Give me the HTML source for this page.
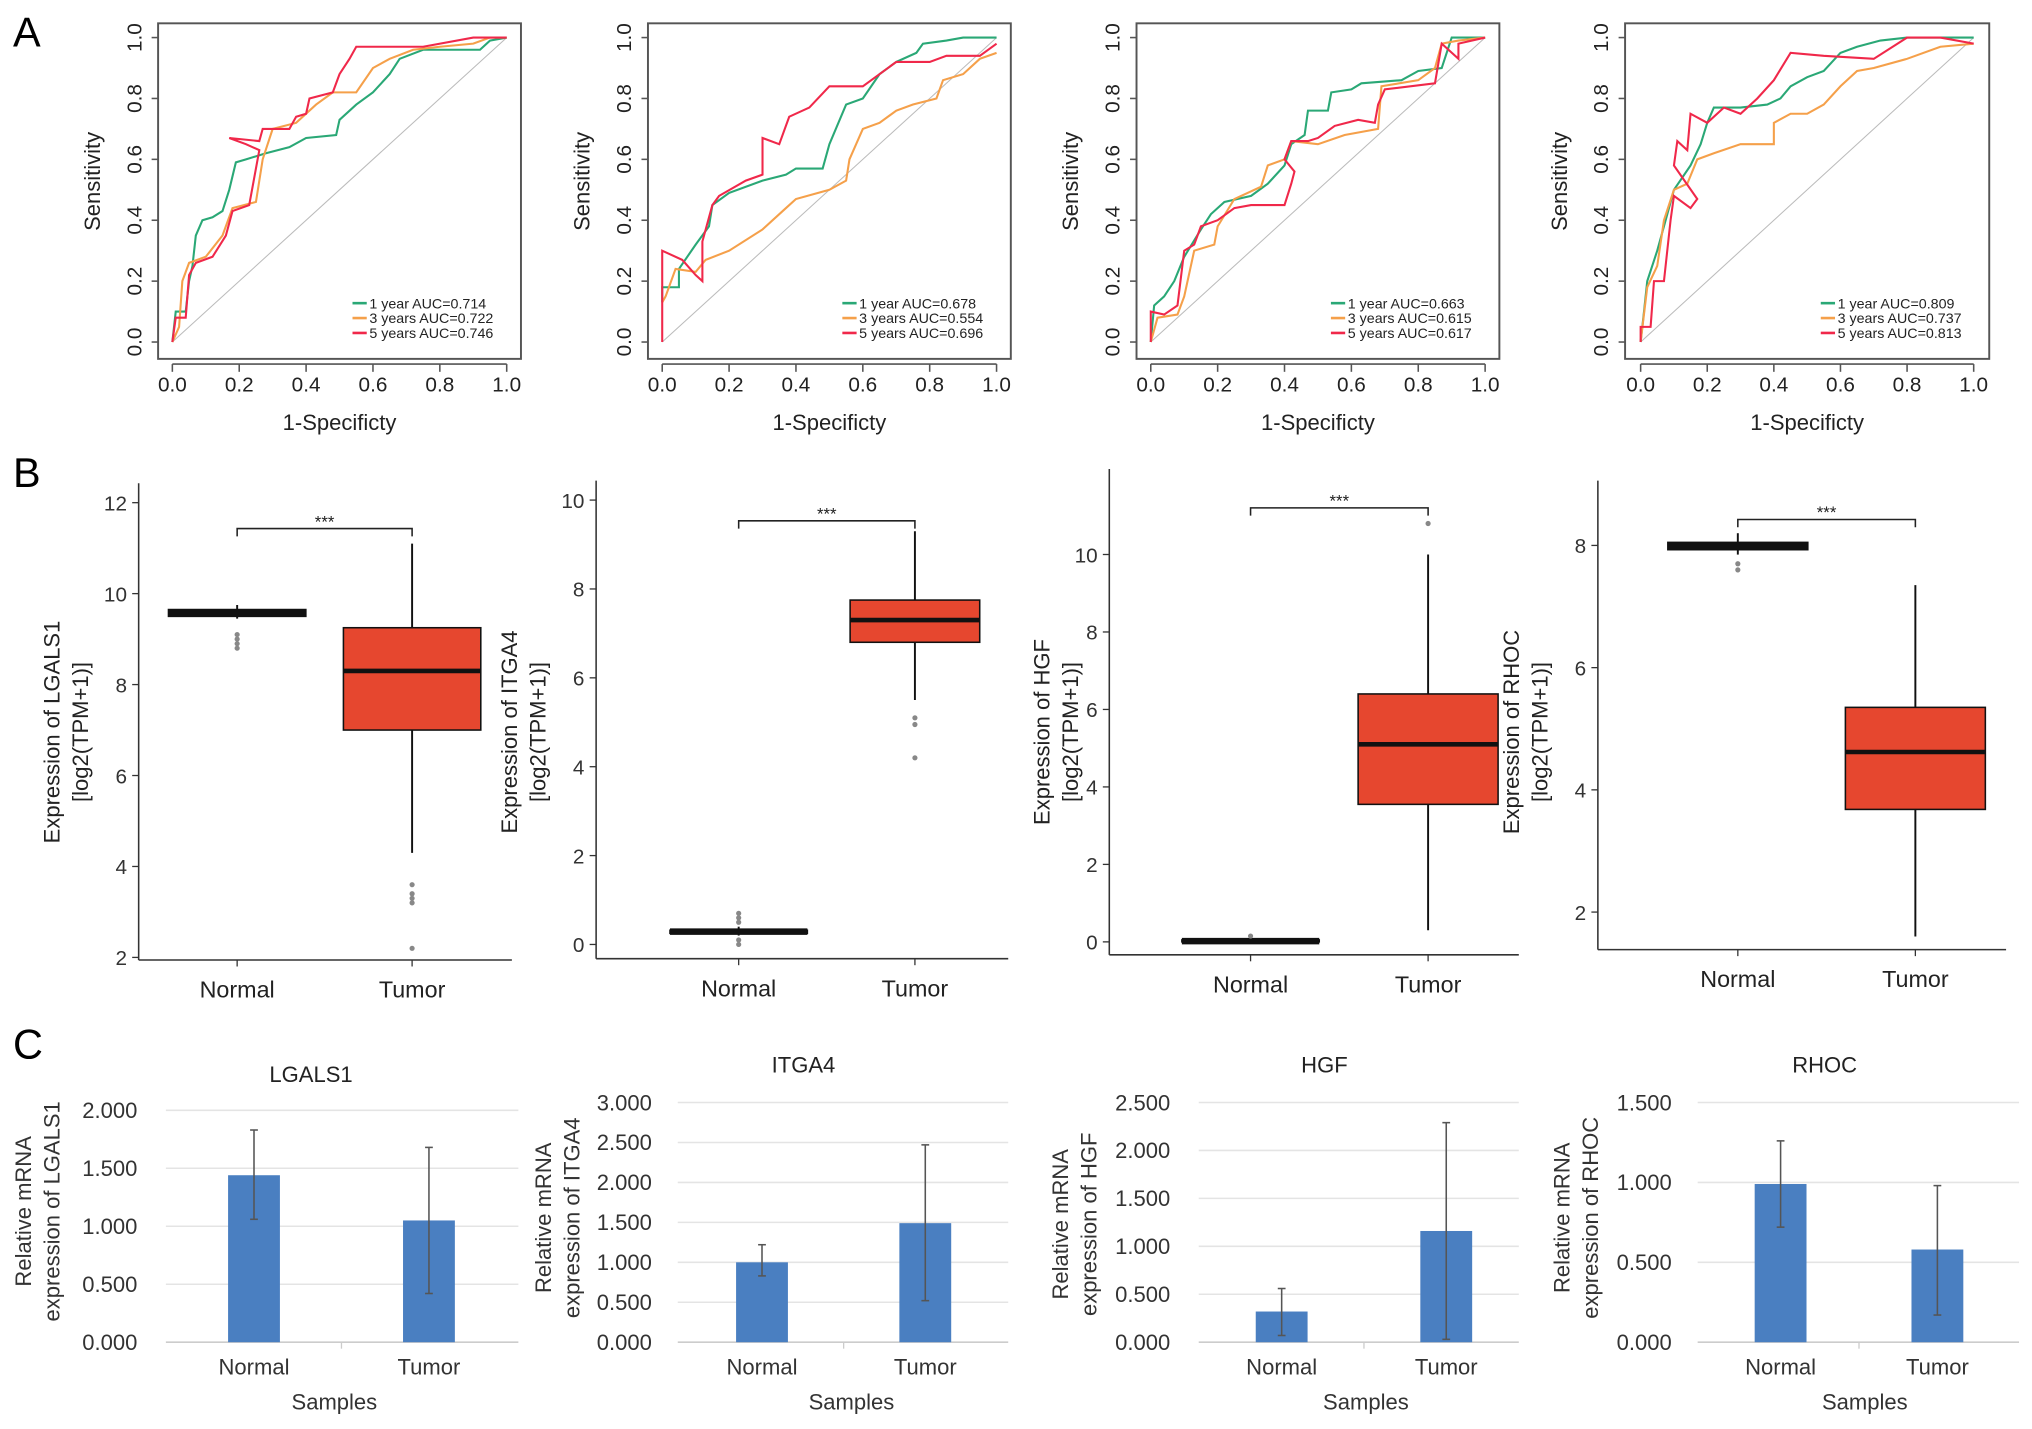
<!DOCTYPE html>
<html><head><meta charset="utf-8"><style>
html,body{margin:0;padding:0;background:#fff;}
svg{display:block;font-family:"Liberation Sans",Arial,sans-serif;}
</style></head><body>
<svg id="fig" width="2032" height="1429" viewBox="0 0 1568 1103" preserveAspectRatio="none" xmlns="http://www.w3.org/2000/svg">
<rect width="1568" height="1103" fill="#fff"/>
<text x="10" y="36" font-size="32">A</text>
<text x="10" y="376" font-size="32">B</text>
<text x="10" y="817" font-size="32">C</text>
</svg>
<script>
// ---------- Panel A: ROC data ----------
const rocLegend1 = ["1 year AUC=0.714","3 years AUC=0.722","5 years AUC=0.746"];
const rocLegend2 = ["1 year AUC=0.678","3 years AUC=0.554","5 years AUC=0.696"];
const rocLegend3 = ["1 year AUC=0.663","3 years AUC=0.615","5 years AUC=0.617"];
const rocLegend4 = ["1 year AUC=0.809","3 years AUC=0.737","5 years AUC=0.813"];
const rocTicks = [0,0.2,0.4,0.6,0.8,1.0];
const roc1y1 = [[0,0],[0.01,0.1],[0.04,0.1],[0.05,0.2],[0.06,0.25],[0.07,0.35],[0.09,0.4],[0.12,0.41],[0.15,0.43],[0.17,0.5],[0.19,0.59],[0.22,0.6],[0.28,0.62],[0.35,0.64],[0.4,0.67],[0.49,0.68],[0.5,0.73],[0.55,0.78],[0.6,0.82],[0.65,0.88],[0.68,0.93],[0.75,0.96],[0.92,0.96],[0.95,0.99],[1,1]];
const roc1y3 = [[0,0],[0.02,0.05],[0.03,0.2],[0.05,0.26],[0.1,0.28],[0.15,0.35],[0.18,0.44],[0.25,0.46],[0.27,0.6],[0.3,0.7],[0.37,0.72],[0.43,0.78],[0.48,0.82],[0.55,0.82],[0.6,0.9],[0.65,0.93],[0.72,0.96],[0.8,0.97],[0.9,0.98],[0.95,1],[1,1]];
const roc1y5 = [[0,0],[0.01,0.08],[0.04,0.08],[0.05,0.22],[0.07,0.26],[0.12,0.28],[0.16,0.35],[0.18,0.43],[0.23,0.45],[0.26,0.63],[0.22,0.65],[0.17,0.67],[0.26,0.66],[0.27,0.7],[0.35,0.7],[0.37,0.74],[0.4,0.75],[0.41,0.8],[0.48,0.82],[0.5,0.88],[0.53,0.93],[0.55,0.97],[0.65,0.97],[0.75,0.97],[0.9,1],[1,1]];
const roc2y1 = [[0,0.13],[0,0.18],[0.05,0.18],[0.05,0.24],[0.1,0.32],[0.14,0.38],[0.15,0.45],[0.2,0.49],[0.3,0.53],[0.37,0.55],[0.4,0.57],[0.48,0.57],[0.5,0.65],[0.55,0.78],[0.6,0.8],[0.65,0.88],[0.7,0.92],[0.76,0.95],[0.78,0.98],[0.85,0.99],[0.9,1],[1,1]];
const roc2y3 = [[0,0.13],[0.01,0.15],[0.04,0.24],[0.1,0.23],[0.13,0.27],[0.2,0.3],[0.3,0.37],[0.37,0.44],[0.4,0.47],[0.5,0.5],[0.55,0.53],[0.56,0.6],[0.6,0.7],[0.65,0.72],[0.7,0.76],[0.75,0.78],[0.82,0.8],[0.84,0.86],[0.9,0.88],[0.95,0.93],[1,0.95]];
const roc2y5 = [[0,0],[0,0.3],[0.06,0.27],[0.1,0.22],[0.12,0.2],[0.12,0.33],[0.15,0.45],[0.17,0.48],[0.25,0.53],[0.3,0.55],[0.3,0.67],[0.35,0.65],[0.38,0.74],[0.44,0.77],[0.5,0.84],[0.6,0.84],[0.7,0.92],[0.8,0.92],[0.85,0.94],[0.95,0.94],[1,0.98]];
const roc3y1 = [[0,0],[0.01,0.12],[0.04,0.15],[0.07,0.2],[0.1,0.28],[0.15,0.37],[0.18,0.42],[0.22,0.46],[0.3,0.48],[0.35,0.52],[0.4,0.58],[0.42,0.65],[0.46,0.68],[0.47,0.76],[0.53,0.76],[0.54,0.82],[0.6,0.83],[0.63,0.85],[0.75,0.86],[0.8,0.89],[0.87,0.9],[0.9,1],[1,1]];
const roc3y3 = [[0,0],[0.02,0.08],[0.08,0.09],[0.1,0.15],[0.13,0.3],[0.19,0.32],[0.2,0.38],[0.25,0.47],[0.33,0.51],[0.35,0.58],[0.4,0.6],[0.42,0.66],[0.5,0.65],[0.58,0.68],[0.68,0.7],[0.69,0.84],[0.8,0.86],[0.85,0.9],[0.87,0.98],[0.92,0.99],[1,1]];
const roc3y5 = [[0,0],[0,0.1],[0.04,0.09],[0.08,0.12],[0.1,0.3],[0.13,0.32],[0.15,0.38],[0.2,0.4],[0.25,0.44],[0.3,0.45],[0.4,0.45],[0.42,0.52],[0.43,0.56],[0.4,0.6],[0.42,0.66],[0.47,0.66],[0.5,0.67],[0.55,0.71],[0.62,0.73],[0.67,0.72],[0.68,0.78],[0.7,0.83],[0.85,0.85],[0.87,0.98],[0.92,0.93],[0.92,0.98],[1,1]];
const roc4y1 = [[0,0],[0.01,0.1],[0.02,0.2],[0.05,0.3],[0.08,0.42],[0.1,0.5],[0.15,0.58],[0.18,0.65],[0.2,0.72],[0.22,0.77],[0.3,0.77],[0.38,0.78],[0.42,0.8],[0.45,0.84],[0.5,0.87],[0.55,0.89],[0.6,0.95],[0.65,0.97],[0.72,0.99],[0.8,1],[1,1]];
const roc4y3 = [[0,0],[0.02,0.18],[0.05,0.25],[0.07,0.4],[0.1,0.5],[0.14,0.52],[0.17,0.6],[0.22,0.62],[0.3,0.65],[0.4,0.65],[0.4,0.72],[0.45,0.75],[0.5,0.75],[0.55,0.78],[0.6,0.84],[0.65,0.89],[0.7,0.9],[0.8,0.93],[0.9,0.97],[1,0.98]];
const roc4y5 = [[0,0],[0,0.05],[0.03,0.05],[0.04,0.2],[0.07,0.2],[0.09,0.4],[0.1,0.48],[0.15,0.44],[0.17,0.47],[0.1,0.58],[0.11,0.66],[0.14,0.63],[0.15,0.75],[0.2,0.72],[0.25,0.77],[0.3,0.75],[0.35,0.8],[0.4,0.86],[0.45,0.95],[0.55,0.94],[0.7,0.93],[0.8,1],[0.9,1],[1,0.98]];

// ---------- Panel B: boxplot data ----------
const boxGenes = ["LGALS1","ITGA4","HGF","RHOC"];
const boxCategories = ["Normal","Tumor"];
const boxTicks1 = [2,4,6,8,10,12];
const boxTicks2 = [0,2,4,6,8,10];
const boxTicks3 = [0,2,4,6,8,10];
const boxTicks4 = [2,4,6,8];
// [whiskerLow, q1, median, q3, whiskerHigh]
const boxStats1 = [[9.45,9.5,9.58,9.65,9.75],[4.3,7.0,8.3,9.25,11.1]];
const boxStats2 = [[0.2,0.25,0.29,0.32,0.4],[5.5,6.8,7.3,7.75,9.3]];
const boxStats3 = [[0,0,0.02,0.05,0.1],[0.3,3.55,5.1,6.4,10.0]];
const boxStats4 = [[7.85,7.93,7.99,8.05,8.2],[1.6,3.68,4.62,5.35,7.35]];
const boxOut1 = [[9.1,9.0,8.9,8.8],[3.6,3.4,3.3,3.2,2.2]];
const boxOut2 = [[0.7,0.6,0.5,0.1,0.0],[5.1,4.95,4.2]];
const boxOut3 = [[0.15],[10.8]];
const boxOut4 = [[7.7,7.6],[]];

// ---------- Panel C: bar data ----------
const barGenes = ["LGALS1","ITGA4","HGF","RHOC"];
const barCategories = ["Normal","Tumor"];
const barTicks1 = [0,0.5,1,1.5,2];
const barTicks2 = [0,0.5,1,1.5,2,2.5,3];
const barTicks3 = [0,0.5,1,1.5,2,2.5];
const barTicks4 = [0,0.5,1,1.5];
const barValues1 = [1.44,1.05];
const barValues2 = [1.0,1.49];
const barValues3 = [0.32,1.16];
const barValues4 = [0.99,0.58];
const barErrLow1 = [1.06,0.42], barErrHigh1 = [1.83,1.68];
const barErrLow2 = [0.83,0.52], barErrHigh2 = [1.22,2.47];
const barErrLow3 = [0.07,0.03], barErrHigh3 = [0.56,2.29];
const barErrLow4 = [0.72,0.17], barErrHigh4 = [1.26,0.98];

const svg = document.getElementById('fig');
const NS = 'http://www.w3.org/2000/svg';
function mk(tag, attrs, parent, text){
  const e = document.createElementNS(NS, tag);
  for (const k in attrs) e.setAttribute(k, attrs[k]);
  if (text !== undefined) e.textContent = text;
  (parent || svg).appendChild(e);
  return e;
}
function lin(d0,d1,r0,r1){ return v => r0 + (v-d0)/(d1-d0)*(r1-r0); }

// ---------- Draw Panel A ----------
const rocPanels = [
  {x0:133, x1:391, box:[122,402], lg:rocLegend1, s:[roc1y1,roc1y3,roc1y5]},
  {x0:511, x1:769, box:[500,780], lg:rocLegend2, s:[roc2y1,roc2y3,roc2y5]},
  {x0:888, x1:1146, box:[877,1157], lg:rocLegend3, s:[roc3y1,roc3y3,roc3y5]},
  {x0:1266, x1:1523, box:[1254,1535], lg:rocLegend4, s:[roc4y1,roc4y3,roc4y5]}
];
const rocColors = ['#2aa876','#f5a04a','#f0284a'];
rocPanels.forEach((p, i) => {
  const g = mk('g', {});
  
  
  const xs = lin(0,1,p.x0,p.x1), ys = lin(0,1,264,29);
  mk('rect', {x:p.box[0], y:18, width:p.box[1]-p.box[0], height:259, fill:'none', stroke:'#555', 'stroke-width':1.5}, g);
  mk('line', {x1:xs(0), y1:ys(0), x2:xs(1), y2:ys(1), stroke:'#bbb', 'stroke-width':0.8}, g);
  mk('line', {x1:xs(0), y1:281, x2:xs(1), y2:281, stroke:'#555', 'stroke-width':1.2}, g);
  rocTicks.forEach(t => {
    mk('line', {x1:xs(t), y1:281, x2:xs(t), y2:287, stroke:'#555', 'stroke-width':1.2}, g);
    const tl = mk('text', {x:xs(t), y:302, 'font-size':16, 'text-anchor':'middle', fill:'#222'}, g, t.toFixed(1));
    
    
    mk('line', {x1:p.box[0], y1:ys(t), x2:p.box[0]-5, y2:ys(t), stroke:'#555', 'stroke-width':1.2}, g);
    const yl = mk('text', {x:0, y:0, 'font-size':16, 'text-anchor':'middle', fill:'#222', transform:`translate(${p.box[0]-13},${ys(t)}) rotate(-90)`}, g, t.toFixed(1));
    
    
  });
  const xt = mk('text', {x:(xs(0)+xs(1))/2, y:332, 'font-size':17, 'text-anchor':'middle', fill:'#222'}, g, '1-Specificty');
  
  
  const yt = mk('text', {x:0, y:0, 'font-size':17, 'text-anchor':'middle', fill:'#222', transform:`translate(${p.box[0]-45},140) rotate(-90)`}, g, 'Sensitivity');
  
  
  p.s.forEach((ser, k) => {
    const pl = mk('polyline', {points: ser.map(d => xs(d[0]).toFixed(1)+','+ys(d[1]).toFixed(1)).join(' '), fill:'none', stroke:rocColors[k], 'stroke-width':1.6}, g);
    
    
  });
  p.lg.forEach((txt, k) => {
    const lx = p.box[1]-130, ly = 234 + k*11.5;
    const le = mk('g', {}, g);
    
    
    mk('line', {x1:lx, y1:ly, x2:lx+11, y2:ly, stroke:rocColors[k], 'stroke-width':2}, le);
    mk('text', {x:lx+13, y:ly+4, 'font-size':11, fill:'#222'}, le, txt);
  });
});

// ---------- Draw Panel B ----------
const boxPanels = [
  {ax:107, ax1:395, axY:741, v0:2, v1:12, p0:739, p1:388, cx:[183,318], hw:[53,53], ticks:boxTicks1, st:boxStats1, out:boxOut1, brY:408, lx:[40,62], lcy:565},
  {ax:460, ax1:778, axY:740, v0:0, v1:10, p0:729, p1:386, cx:[570,706], hw:[53,50], ticks:boxTicks2, st:boxStats2, out:boxOut2, brY:402, lx:[393,415], lcy:565},
  {ax:856, ax1:1172, axY:737, v0:0, v1:10, p0:727, p1:428, cx:[965,1102], hw:[53,54], ticks:boxTicks3, st:boxStats3, out:boxOut3, brY:392, lx:[804,826], lcy:565},
  {ax:1233, ax1:1548, axY:733, v0:2, v1:8, p0:704, p1:421, cx:[1341,1478], hw:[54,54], ticks:boxTicks4, st:boxStats4, out:boxOut4, brY:401, lx:[1166,1188], lcy:565}
];
boxPanels.forEach((p, i) => {
  const g = mk('g', {});
  
  
  const ys = lin(p.v0,p.v1,p.p0,p.p1);
  const top = ys(p.ticks[p.ticks.length-1]) - 15;
  mk('line', {x1:p.ax, y1:Math.min(top, p.brY-30), x2:p.ax, y2:p.axY, stroke:'#333', 'stroke-width':1.2}, g);
  mk('line', {x1:p.ax, y1:p.axY, x2:p.ax1, y2:p.axY, stroke:'#333', 'stroke-width':1.2}, g);
  p.ticks.forEach(t => {
    mk('line', {x1:p.ax-5, y1:ys(t), x2:p.ax, y2:ys(t), stroke:'#333', 'stroke-width':1}, g);
    const tl = mk('text', {x:p.ax-9, y:ys(t)+6, 'font-size':16, 'text-anchor':'end', fill:'#333'}, g, String(t));
    
    
  });
  const t1 = mk('text', {x:0,y:0,'font-size':17,'text-anchor':'middle',fill:'#222',transform:`translate(${p.lx[0]+6},${p.lcy}) rotate(-90)`}, g, 'Expression of ' + boxGenes[i]);
  
  
  const t2 = mk('text', {x:0,y:0,'font-size':17,'text-anchor':'middle',fill:'#222',transform:`translate(${p.lx[1]+6},${p.lcy}) rotate(-90)`}, g, '[log2(TPM+1)]');
  
  
  boxCategories.forEach((c, k) => {
    const cx = p.cx[k], hw = p.hw[k], s = p.st[k];
    mk('line', {x1:cx, y1:p.axY, x2:cx, y2:p.axY+5, stroke:'#333'}, g);
    const xl = mk('text', {x:cx, y:p.axY+29, 'font-size':18, 'text-anchor':'middle', fill:'#222'}, g, c);
    
    
    const bx = mk('g', {}, g);
    
    
    mk('line', {x1:cx, y1:ys(s[0]), x2:cx, y2:ys(s[4]), stroke:'#111', 'stroke-width':1.5}, bx);
    const h = Math.max(ys(s[1]) - ys(s[3]), 1);
    mk('rect', {x:cx-hw, y:ys(s[3]), width:2*hw, height:h, fill: k===1 ? '#e6472f' : '#111', stroke:'#111', 'stroke-width':1.2}, bx);
    mk('line', {x1:cx-hw, y1:ys(s[2]), x2:cx+hw, y2:ys(s[2]), stroke:'#111', 'stroke-width': k===1 ? 3.5 : 5}, bx);
    p.out[k].forEach(o => {
      mk('circle', {cx:cx, cy:ys(o), r:2, fill:'#888'}, bx);
    });
  });
  const br = mk('g', {}, g);
  
  
  mk('path', {d:`M${p.cx[0]} ${p.brY+6} V${p.brY} H${p.cx[1]} V${p.brY+6}`, fill:'none', stroke:'#222', 'stroke-width':1.2}, br);
  mk('text', {x:(p.cx[0]+p.cx[1])/2, y:p.brY-1, 'font-size':13, 'text-anchor':'middle', fill:'#222'}, br, '***');
});

// ---------- Draw Panel C ----------
const barPanels = [
  {gx0:128, gx1:400, tlx:106, vmax:2, py0:1036, py1:857, ticks:barTicks1, v:barValues1, lo:barErrLow1, hi:barErrHigh1, cx:[196,331], title:[240,835], lx:[18,40], lcy:935, sx:258},
  {gx0:523, gx1:778, tlx:503, vmax:3, py0:1036, py1:851, ticks:barTicks2, v:barValues2, lo:barErrLow2, hi:barErrHigh2, cx:[588,714], title:[620,828], lx:[419,441], lcy:940, sx:657},
  {gx0:925, gx1:1172, tlx:903, vmax:2.5, py0:1036, py1:851, ticks:barTicks3, v:barValues3, lo:barErrLow3, hi:barErrHigh3, cx:[989,1116], title:[1022,828], lx:[818,840], lcy:945, sx:1054},
  {gx0:1310, gx1:1558, tlx:1290, vmax:1.5, py0:1036, py1:851, ticks:barTicks4, v:barValues4, lo:barErrLow4, hi:barErrHigh4, cx:[1374,1495], title:[1408,828], lx:[1205,1227], lcy:940, sx:1439}
];
barPanels.forEach((p, i) => {
  const g = mk('g', {});
  
  
  const ys = lin(0, p.vmax, p.py0, p.py1);
  const tt = mk('text', {x:p.title[0], y:p.title[1], 'font-size':17, 'text-anchor':'middle', fill:'#222'}, g, barGenes[i]);
  
  
  p.ticks.forEach(t => {
    mk('line', {x1:p.gx0, y1:ys(t), x2:p.gx1, y2:ys(t), stroke: t===0 ? '#ccc' : '#e4e4e4', 'stroke-width':1.2}, g);
    const tl = mk('text', {x:p.tlx, y:ys(t)+6, 'font-size':17, 'text-anchor':'end', fill:'#333'}, g, t.toFixed(3));
    
    
  });
  mk('line', {x1:(p.cx[0]+p.cx[1])/2, y1:p.py0, x2:(p.cx[0]+p.cx[1])/2, y2:p.py0+5, stroke:'#ccc'}, g);
  const t1 = mk('text', {x:0,y:0,'font-size':17,'text-anchor':'middle',fill:'#333',transform:`translate(${p.lx[0]+6},${p.lcy}) rotate(-90)`}, g, 'Relative mRNA');
  
  
  const t2 = mk('text', {x:0,y:0,'font-size':17,'text-anchor':'middle',fill:'#333',transform:`translate(${p.lx[1]+6},${p.lcy}) rotate(-90)`}, g, 'expression of ' + barGenes[i]);
  
  
  barCategories.forEach((c, k) => {
    const cx = p.cx[k];
    const b = mk('rect', {x:cx-20, y:ys(p.v[k]), width:40, height:ys(0)-ys(p.v[k]), fill:'#4a7fc1'}, g);
    
    
    const e = mk('g', {}, g);
    
    
    mk('line', {x1:cx, y1:ys(p.lo[k]), x2:cx, y2:ys(p.hi[k]), stroke:'#555', 'stroke-width':1.2}, e);
    mk('line', {x1:cx-3, y1:ys(p.lo[k]), x2:cx+3, y2:ys(p.lo[k]), stroke:'#555', 'stroke-width':1.2}, e);
    mk('line', {x1:cx-3, y1:ys(p.hi[k]), x2:cx+3, y2:ys(p.hi[k]), stroke:'#555', 'stroke-width':1.2}, e);
    const xl = mk('text', {x:cx, y:1061, 'font-size':17, 'text-anchor':'middle', fill:'#333'}, g, c);
    
    
  });
  const st = mk('text', {x:p.sx, y:1088, 'font-size':17, 'text-anchor':'middle', fill:'#333'}, g, 'Samples');
  
  
});
</script>
</body></html>
